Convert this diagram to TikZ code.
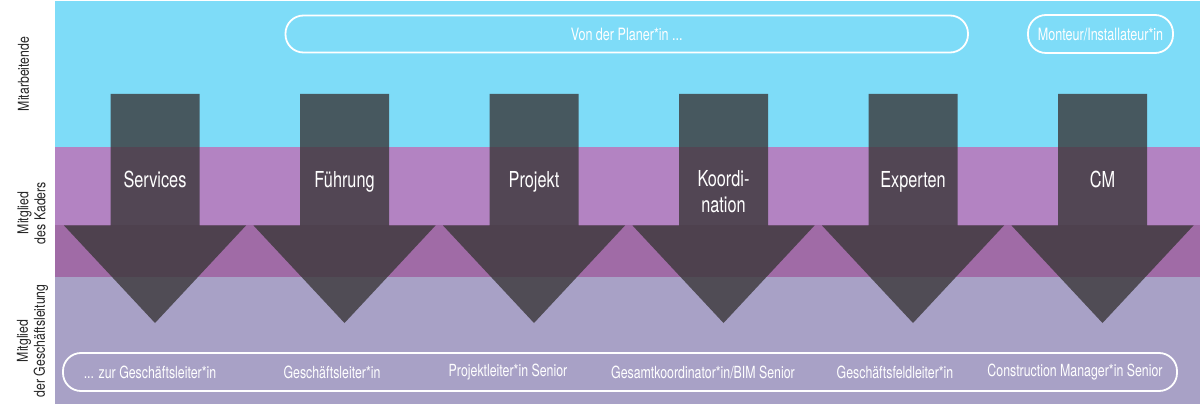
\documentclass[tikz,border=0pt]{standalone}
\usepackage{fontspec}
\newfontfamily\condf[FakeStretch=0.74]{TeX Gyre Heros}
\newfontfamily\sidef[FakeStretch=0.82]{TeX Gyre Heros}
\definecolor{bandA}{RGB}{126,220,248}
\definecolor{bandB}{RGB}{179,131,194}
\definecolor{bandC}{RGB}{160,107,166}
\definecolor{bandD}{RGB}{168,161,198}
\definecolor{arrowc}{RGB}{58,55,57}
\tikzset{
  arrowshape/.style={fill=arrowc, fill opacity=0.8, draw=none},
  arrowlabel/.style={text=white, font=\condf\fontsize{22}{26}\selectfont, align=center, inner sep=0pt},
  pill/.style={draw=white, line width=1.8pt, rounded corners=18pt, inner sep=0pt},
  pilltext/.style={text=white, font=\condf\fontsize{16.7}{18}\selectfont, inner sep=0pt},
  toptext/.style={text=white, font=\condf\fontsize{17}{18}\selectfont, inner sep=0pt},
  sidelabel/.style={text=black!85, font=\sidef\fontsize{15}{17}\selectfont, rotate=90, align=center, inner sep=0pt},
}
\begin{document}
\begin{tikzpicture}[x=1pt, y=-1pt]
\useasboundingbox (0,0) rectangle (1200,406);
\fill[white] (0,0) rectangle (1200,406);
% bands
\fill[bandA] (54.5,1) rectangle (1200,147.5);
\fill[bandB] (54.5,147.5) rectangle (1200,225.5);
\fill[bandC] (54.5,225.5) rectangle (1200,277);
\fill[bandD] (54.5,277) rectangle (1200,404);
% side labels
\node[sidelabel] (lab1) at (23.5,74) {Mitarbeitende};
\node[sidelabel] (lab2) at (31.5,213) {Mitglied\\des Kaders};
\node[sidelabel] (lab3) at (32.5,341) {Mitglied\\der Geschäftsleitung};
% arrows
\foreach \cx in {155,344.5,534,723.5,913,1102.5}{
  \fill[arrowshape] (\cx-44.5,94) -- (\cx+44.5,94) -- (\cx+44.5,225.5) -- (\cx+91,225.5)
    -- (\cx,323) -- (\cx-91,225.5) -- (\cx-44.5,225.5) -- cycle;
}
\node[arrowlabel, anchor=base] (a1) at (155,188) {Services};
\node[arrowlabel, anchor=base] (a2) at (344.5,188) {Führung};
\node[arrowlabel, anchor=base] (a3) at (534,188) {Projekt};
\node[arrowlabel, anchor=base] (a4) at (723.5,213) {Koordi-\\nation};
\node[arrowlabel, anchor=base] (a5) at (913,188) {Experten};
\node[arrowlabel, anchor=base] (a6) at (1102.5,188) {CM};
% top pills
\node[pill, minimum width=682.5pt, minimum height=37pt] (p1) at (626.75,34) {};
\node[toptext] (t1) at (p1.center) {Von der Planer*in ...};
\node[pill, minimum width=145pt, minimum height=38pt] (p2) at (1100.5,34) {};
\node[toptext] (t2) at (p2.center) {Monteur/Installateur*in};
% bottom pill
\node[pill, minimum width=1114pt, minimum height=38pt] (p3) at (620,372) {};
\node[pilltext] (b1) at (150,372) {... zur Geschäftsleiter*in};
\node[pilltext] (b2) at (332,372) {Geschäftsleiter*in};
\node[pilltext] (b3) at (508,372) {Projektleiter*in Senior};
\node[pilltext] (b4) at (703,372) {Gesamtkoordinator*in/BIM Senior};
\node[pilltext] (b5) at (895,372) {Geschäftsfeldleiter*in};
\node[pilltext] (b6) at (1075,372) {Construction Manager*in Senior};
\end{tikzpicture}
\end{document}
